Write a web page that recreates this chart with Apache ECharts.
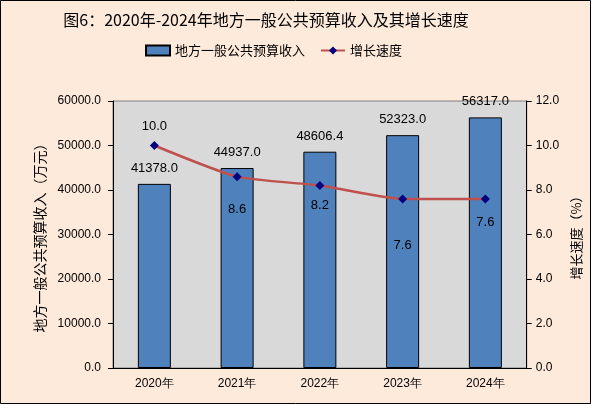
<!DOCTYPE html>
<html lang="zh">
<head>
	<meta charset="UTF-8">
	<title>地方一般公共预算收入</title>
	<style>
		html, body { margin: 0; padding: 0; background: #fdeadb; }
	</style>
</head>
<body>
	<div id="main" style="width: 591px;height:404px;"></div>
<script type="text/javascript" src="https://cdn.jsdelivr.net/npm/echarts@6/dist/echarts.min.js"></script>
<script type="text/javascript">
	// 数据
	var years = ['2020年', '2021年', '2022年', '2023年', '2024年'];
	var income = [41378.0, 44937.0, 48606.4, 52323.0, 56317.0];
	var growth = [10.0, 8.6, 8.2, 7.6, 7.6];

	var cjk = '"Noto Sans CJK SC", sans-serif';
	var num = '"Liberation Sans", Arial, sans-serif';

	// 增长速度标签位置（第一个在上方，其余在下方）
	var growthLabelPos = ['top', 'bottom', 'bottom', 'bottom', 'bottom'];
	var growthLabelDist = [8, 22, 9, 36, 13];

	var myChart = echarts.init(document.getElementById('main'));

	myChart.setOption({
		backgroundColor: '#fdeadb',
		animation: false,
		title: {
			text: '图6：2020年-2024年地方一般公共预算收入及其增长速度',
			left: 261,
			textAlign: 'center',
			top: 7,
			textStyle: { fontFamily: cjk, fontSize: 16, fontWeight: 'normal', color: '#000' }
		},
		legend: {
			data: [
				{ name: '地方一般公共预算收入', icon: 'rect' },
				{ name: '增长速度' }
			],
			left: 140,
			top: 39,
			itemWidth: 24,
			itemHeight: 10,
			itemGap: 15,
			textStyle: { fontFamily: cjk, fontSize: 13, color: '#000' }
		},
		graphic: [{
			type: 'rect',
			shape: { x: 0.5, y: 0.5, width: 590, height: 403 },
			style: { fill: 'none', stroke: '#000', lineWidth: 1 },
			silent: true
		}],
		grid: { left: 113, right: 60, top: 101, bottom: 36, show: true, backgroundColor: '#d9d9d9', borderColor: '#808080', borderWidth: 1 },
		xAxis: {
			type: 'category',
			data: years,
			axisLine: { lineStyle: { color: '#000', width: 1 } },
			axisTick: { inside: true, length: 4, lineStyle: { color: '#000' } },
			axisLabel: { fontFamily: num, fontSize: 12, color: '#000', margin: 10 }
		},
		yAxis: [{
			type: 'value',
			min: 0,
			max: 60000,
			interval: 10000,
			name: '地方一般公共预算收入（万元）',
			nameLocation: 'middle',
			nameGap: 62,
			nameTextStyle: { fontFamily: cjk, fontSize: 14, color: '#000' },
			axisLine: { show: true, lineStyle: { color: '#000' } },
			axisTick: { show: true, length: 5, lineStyle: { color: '#000' } },
			splitLine: { show: false },
			axisLabel: {
				fontFamily: num, fontSize: 12, color: '#000', margin: 12,
				formatter: function (v) { return v.toFixed(1); }
			}
		}, {
			type: 'value',
			min: 0,
			max: 12,
			interval: 2,
			name: '增长速度（%）',
			nameLocation: 'middle',
			nameGap: 43,
			nameRotate: 90,
			nameTextStyle: { fontFamily: cjk, fontSize: 13, color: '#000' },
			axisLine: { show: true, lineStyle: { color: '#000' } },
			axisTick: { show: true, length: 5, lineStyle: { color: '#000' } },
			splitLine: { show: false },
			axisLabel: {
				fontFamily: num, fontSize: 12, color: '#000', margin: 9,
				formatter: function (v) { return v.toFixed(1); }
			}
		}],
		series: [{
			name: '地方一般公共预算收入',
			type: 'bar',
			barWidth: 33,
			data: income,
			itemStyle: { color: '#4f81bd', borderColor: '#000', borderWidth: 1 },
			label: {
				show: true,
				position: 'top',
				distance: 9,
				fontFamily: num,
				fontSize: 13,
				color: '#000',
				formatter: function (p) { return p.value.toFixed(1); }
			}
		}, {
			name: '增长速度',
			type: 'line',
			yAxisIndex: 1,
			smooth: 0.2,
			symbol: 'diamond',
			symbolSize: 9,
			data: growth.map(function (v, i) {
				return {
					value: v,
					label: { position: growthLabelPos[i], distance: growthLabelDist[i] }
				};
			}),
			lineStyle: { color: '#c0504d', width: 2.5 },
			itemStyle: { color: '#000080' },
			label: {
				show: true,
				fontFamily: num,
				fontSize: 13,
				color: '#000',
				formatter: function (p) { return p.value.toFixed(1); }
			},
			z: 5
		}]
	});
</script>
</body>
</html>
